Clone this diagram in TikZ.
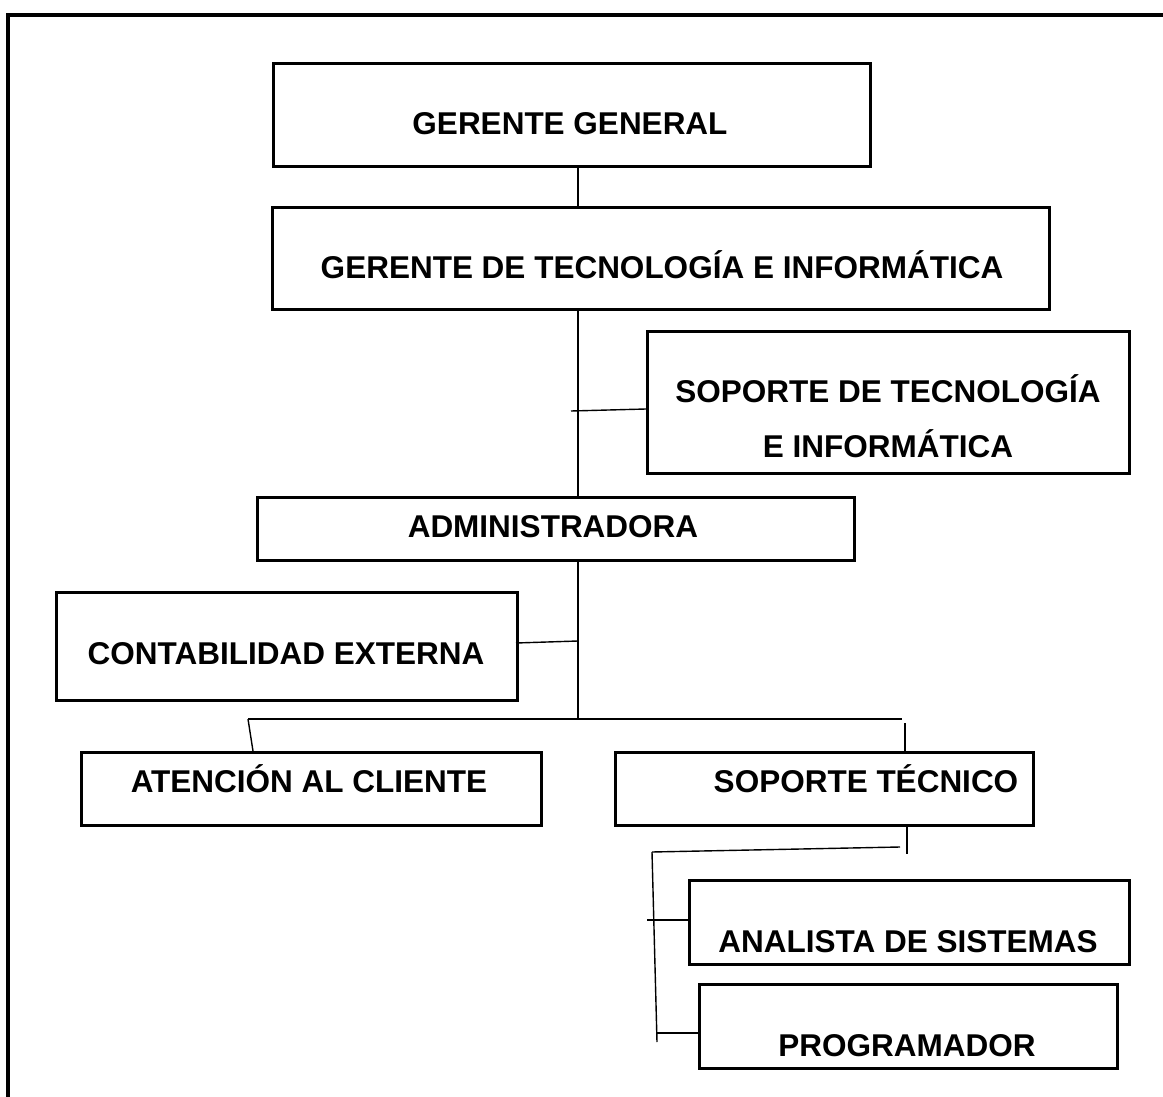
\documentclass[tikz,border=0pt]{standalone}
\usepackage{fontspec}
\setmainfont{Liberation Sans}
\begin{document}
\begin{tikzpicture}[x=1pt,y=-1pt,
  box/.style={draw,line width=2.8pt,rectangle,inner sep=0pt,anchor=north west},
  lbl/.style={inner sep=0pt,anchor=base,font=\fontsize{31.5}{36}\selectfont\bfseries},
  conn/.style={line width=1.4pt},
  frame/.style={line width=3.5pt}]
\useasboundingbox (0,0) rectangle (1163,1097);
% outer frame
\coordinate (ftl) at (8,15);
\coordinate (ftr) at (1163,15);
\coordinate (fbl) at (8,1097);
\draw[frame] (fbl) -- (ftl) -- (ftr);

% boxes
\node[box,minimum width=597,minimum height=103] (gg) at (272,62) {};
\node[lbl] (ggt) at (570,135) {GERENTE GENERAL};

\node[box,minimum width=777,minimum height=102] (gti) at (271,206) {};
\node[lbl] (gtit) at (662,278) {GERENTE DE TECNOLOGÍA E INFORMÁTICA};

\node[box,minimum width=482,minimum height=142] (sop) at (646,330) {};
\node[lbl] (sopt1) at (888,402) {SOPORTE DE TECNOLOGÍA};
\node[lbl] (sopt2) at (888,457) {E INFORMÁTICA};

\node[box,minimum width=597,minimum height=63] (adm) at (256,496) {};
\node[lbl] (admt) at (553,537) {ADMINISTRADORA};

\node[box,minimum width=461,minimum height=108] (con) at (55,591) {};
\node[lbl] (cont) at (286,664) {CONTABILIDAD EXTERNA};

\node[box,minimum width=460,minimum height=73] (ate) at (80,751) {};
\node[lbl] (atet) at (309,792) {ATENCIÓN AL CLIENTE};

\node[box,minimum width=418,minimum height=73] (stc) at (614,751) {};
\node[lbl] (stct) at (866,792) {SOPORTE TÉCNICO};

\node[box,minimum width=440,minimum height=84] (ana) at (688,879) {};
\node[lbl] (anat) at (908,952) {ANALISTA DE SISTEMAS};

\node[box,minimum width=418,minimum height=84] (pro) at (698,983) {};
\node[lbl] (prot) at (907,1056) {PROGRAMADOR};

% helper coordinates
\coordinate (sp) at (578,0);
\coordinate (s1) at (571,411);
\coordinate (s2) at (646,409);
\coordinate (c1) at (516,643);
\coordinate (c2) at (578,641);
\coordinate (hl) at (248,719);
\coordinate (hm) at (578,719);
\coordinate (hr) at (902,719);
\coordinate (la) at (253,751);
\coordinate (t1) at (256,824);
\coordinate (t2) at (256,827);
\coordinate (r1) at (905,723);
\coordinate (r2) at (905,751);
\coordinate (b1) at (907,824);
\coordinate (b2) at (907,854);
\coordinate (v1) at (652,852);
\coordinate (v2) at (900,847);
\coordinate (v3) at (657,1042);
\coordinate (a1) at (647,920);
\coordinate (a2) at (688,920);
\coordinate (p1) at (656,1033);
\coordinate (p2) at (698,1033);

% connectors
\draw[conn] (gg.south -| sp) -- (gti.north -| sp);
\draw[conn] (gti.south -| sp) -- (adm.north -| sp);
\draw[conn] (s1) -- (s2);
\draw[conn] (adm.south -| sp) -- (hm);
\draw[conn] (c1) -- (c2);
\draw[conn] (hl) -- (hr);
\draw[conn] (hl) -- (la);
\draw[conn] (t1) -- (t2);
\draw[conn] (r1) -- (r2);
\draw[conn] (b1) -- (b2);
\draw[conn] (v1) -- (v2);
\draw[conn] (v1) -- (v3);
\draw[conn] (a1) -- (a2);
\draw[conn] (p1) -- (p2);
\end{tikzpicture}
\end{document}
